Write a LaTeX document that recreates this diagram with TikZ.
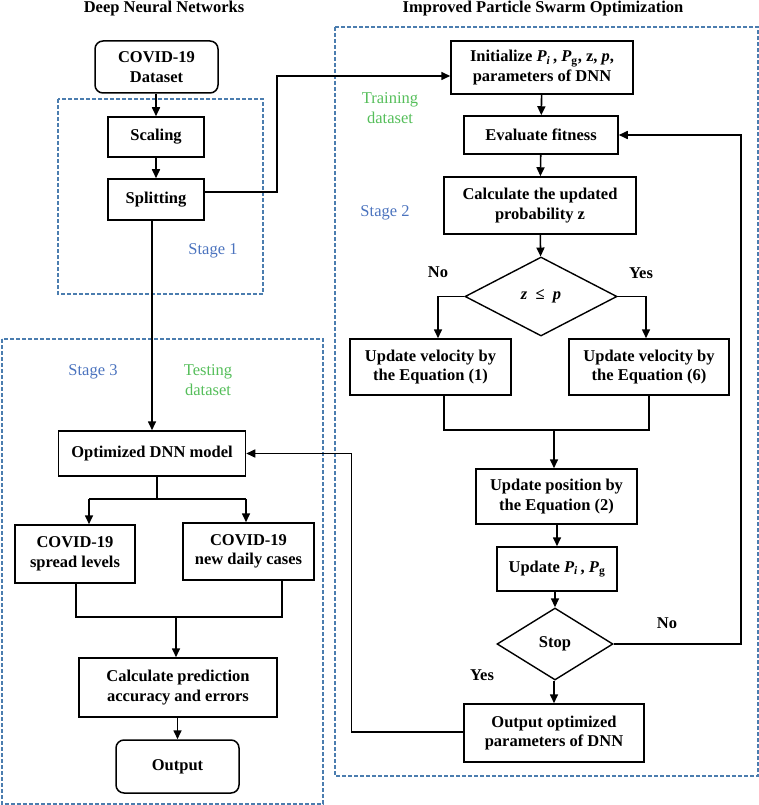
\documentclass[tikz,border=0pt]{standalone}
\usepackage{fontspec}
\setmainfont{Liberation Serif}
\usetikzlibrary{arrows.meta,shapes.geometric}
\definecolor{dashblue}{RGB}{75,125,175}
\definecolor{stageblue}{RGB}{75,115,190}
\definecolor{dsgreen}{RGB}{85,190,90}
\begin{document}
\begin{tikzpicture}[x=1pt,y=-1pt,
  font=\fontsize{16.5}{19.5}\selectfont\bfseries,
  box/.style={draw, line width=1.5pt, align=center, inner sep=0pt},
  rbox/.style={box, rounded corners=8pt},
  dia/.style={draw, diamond, line width=1.4pt, inner sep=0pt, align=center},
  conn/.style={line width=1.6pt},
  arr/.style={conn, -{Triangle[length=9pt,width=8pt]}},
  frame/.style={draw=dashblue, dash pattern=on 4pt off 2pt, line width=1.1pt},
  lbl/.style={font=\fontsize{16.5}{19.5}\selectfont\mdseries, align=center},
  yn/.style={font=\fontsize{16.5}{19.5}\selectfont\bfseries}]
\useasboundingbox (0,0) rectangle (759,805);
% frames
\draw[frame] (58,99) rectangle (263,294);
\draw[frame] (2,339) rectangle (323,804);
\draw[frame] (335,27) rectangle (758,776);
% titles
\node[anchor=north, inner sep=0pt] (t1) at (164,0.5) {Deep Neural Networks};
\node[anchor=north, inner sep=0pt] (t2) at (543,0.5) {Improved Particle Swarm Optimization};
% left nodes
\node[rbox, minimum width=123, minimum height=52] (data) at (156.5,67) {COVID-19\\Dataset};
\node[box, minimum width=96, minimum height=40] (scal) at (156,137) {Scaling};
\node[box, minimum width=96, minimum height=41] (split) at (156,199.5) {Splitting};
\node[box, minimum width=187, minimum height=45] (optm) at (152,453.5) {Optimized DNN model};
\node[box, minimum width=120, minimum height=58] (spread) at (75,554) {COVID-19\\spread levels};
\node[box, minimum width=131, minimum height=57] (daily) at (248.5,551.5) {COVID-19\\new daily cases};
\node[box, minimum width=198, minimum height=59] (calc) at (178,687.5) {Calculate prediction\\accuracy and errors};
\node[rbox, minimum width=123, minimum height=53] (out) at (177.5,766.5) {Output};
% right nodes
\node[box, minimum width=182, minimum height=53] (init) at (542,67.5) {Initialize \textit{P\textsubscript{i}}\,, \textit{P}\textsubscript{g}, z, \textit{p},\\parameters of DNN};
\node[box, minimum width=154, minimum height=38] (eval) at (541,135) {Evaluate fitness};
\node[box, minimum width=192, minimum height=57] (prob) at (540,205.5) {Calculate the updated\\probability z};
\node[dia, minimum width=152, minimum height=79] (zp) at (541,296.5) {\textit{z}\enspace≤\enspace\textit{p}};
\node[box, minimum width=161, minimum height=56] (v1) at (430.5,367) {Update velocity by\\the Equation (1)};
\node[box, minimum width=160, minimum height=56] (v6) at (649,367) {Update velocity by\\the Equation (6)};
\node[box, minimum width=161, minimum height=55] (pos) at (556.5,496.5) {Update position by\\the Equation (2)};
\node[box, minimum width=120, minimum height=44] (upd) at (557,569) {Update \textit{P\textsubscript{i}}\,, \textit{P}\textsubscript{g}};
\node[dia, minimum width=116, minimum height=72] (stop) at (555,644) {Stop};
\node[box, minimum width=180, minimum height=58] (oopt) at (554,733) {Output optimized\\parameters of DNN};
% labels
\node[lbl, text=stageblue] (s1) at (213,251) {Stage 1};
\node[lbl, text=stageblue] (s2) at (385,213) {Stage 2};
\node[lbl, text=stageblue] (s3) at (93,372) {Stage 3};
\node[lbl, text=dsgreen] (tr) at (390,108) {Training\\dataset};
\node[lbl, text=dsgreen] (te) at (208,380) {Testing\\dataset};
\node[yn] (no1) at (438,272) {No};
\node[yn] (yes1) at (641,273) {Yes};
\node[yn] (no2) at (667,623) {No};
\node[yn] (yes2) at (482,675) {Yes};
% left connectors
\draw[arr] (data.south -| scal.north) -- (scal.north);
\draw[arr] (scal) -- (split);
\draw[arr] ([yshift=7.5pt]split.east) -- ++(72,0) |- ([yshift=-8.5pt]init.west);
\draw[arr] (optm.north |- split.south) -- (optm.north);
\coordinate (j0) at (157,499);
\coordinate (j1l) at (89,499);
\coordinate (j1r) at (246,499);
\draw[conn] ([xshift=5pt]optm.south) -- (j0);
\draw[conn] (j1l) -- (j1r);
\draw[arr] (j1l) -- (j1l |- spread.north);
\draw[arr] (j1r) -- (j1r |- daily.north);
\coordinate (m1) at (176,617);
\draw[conn] ([xshift=1pt]spread.south) |- (m1) -| ([xshift=33.5pt]daily.south);
\draw[arr] (m1) -- (m1 |- calc.north);
\draw[arr] (calc.south -| out.north) -- (out.north);
% right connectors
\draw[arr] (init) -- (eval);
\draw[arr] (eval) -- (prob);
\draw[arr] (prob) -- (zp);
\draw[arr] (zp.west) -| ([xshift=7.5pt]v1.north);
\draw[arr] (zp.east) -| ([xshift=-3pt]v6.north);
\coordinate (m2) at (554,430);
\draw[conn] ([xshift=13.5pt]v1.south) |- (m2) -| (v6.south);
\draw[arr] (m2) -- (m2 |- pos.north);
\draw[arr] (pos.south -| upd.north) -- (upd.north);
\draw[arr] (upd.south -| stop.north) -- (stop.north);
\draw[arr] (stop.south -| oopt.north) -- (oopt.north);
\coordinate (r1) at (741,644);
\draw[arr] (stop.east) -- (r1) |- (eval.east);
\coordinate (l1) at (351.5,732);
\draw[arr] ([yshift=1pt]oopt.west) -- (l1) |- (optm.east);
\end{tikzpicture}
\end{document}
